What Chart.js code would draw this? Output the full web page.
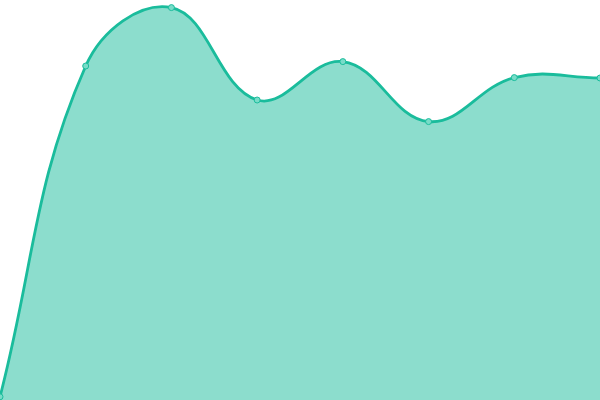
<!DOCTYPE html>
<html>
<head>
<meta charset="utf-8">
<script src="https://cdn.jsdelivr.net/npm/chart.js@4/dist/chart.umd.min.js"></script>
<style>
  html, body { margin: 0; padding: 0; background: #fff; }
  #wrap { width: 600px; height: 400px; }
</style>
</head>
<body>
<div id="wrap"><canvas id="myChart"></canvas></div>
<script>
const labels = ["1", "2", "3", "4", "5", "6", "7", "8"];
const values = [0.8, 83.5, 98.1, 75.0, 84.6, 69.6, 80.6, 80.5];

const ctx = document.getElementById('myChart');

const data = {
    labels: labels,
    datasets: [
        {
            data: values,
            fill: true,
            tension: 0.4,
            borderColor: '#1abc9c',
            borderWidth: 2.8,
            backgroundColor: 'rgba(26, 188, 156, 0.5)',
            pointRadius: 3,
            pointBorderWidth: 1,
            pointBackgroundColor: 'rgba(120, 220, 200, 1)',
            pointBorderColor: '#1abc9c'
        }
    ]
};

new Chart(ctx, {
    type: 'line',
    data: data,
    options: {
        animation: false,
        responsive: true,
        maintainAspectRatio: false,
        layout: { padding: 0, autoPadding: false },
        plugins: {
            legend: { display: false },
            tooltip: { enabled: false }
        },
        scales: {
            x: { display: false },
            y: { display: false, min: 0, max: 100 }
        }
    }
});
</script>
</body>
</html>
